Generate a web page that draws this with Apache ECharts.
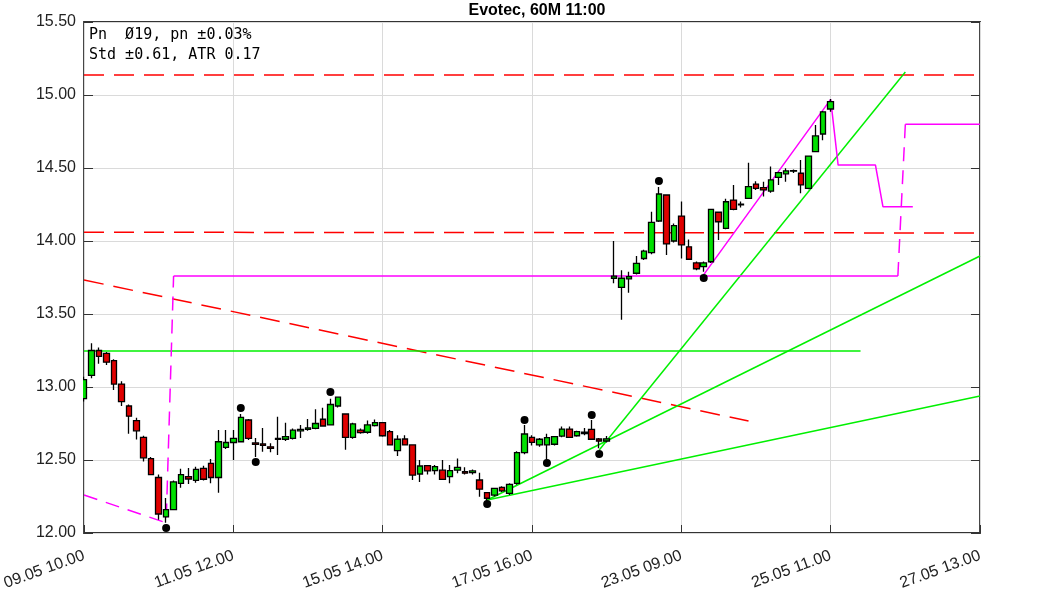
<!DOCTYPE html>
<html>
<head>
<meta charset="utf-8">
<script src="https://cdn.jsdelivr.net/npm/echarts@6/dist/echarts.min.js"></script>
<style>html,body{margin:0;padding:0;background:#fff;}#c{width:1063px;height:591px;}</style>
</head>
<body>
<div id="c"></div>
<script>
// ---- data ----
const tickLabels = ['09.05 10.00','11.05 12.00','15.05 14.00','17.05 16.00','23.05 09.00','25.05 11.00','27.05 13.00'];
const opens  = [12.92,13.08,13.25,13.23,13.18,13.02,12.87,12.77,12.655,12.51,12.38,12.11,12.16,12.34,12.386,12.36,12.443,12.477,12.38,12.587,12.62,12.625,12.774,12.617,12.61,12.59,12.642,12.642,12.648,12.70,12.71,12.717,12.779,12.74,12.87,12.815,12.655,12.705,12.69,12.735,12.756,12.694,12.564,12.644,12.603,12.404,12.461,12.427,12.43,12.386,12.43,12.42,12.413,12.363,12.276,12.26,12.313,12.272,12.34,12.55,12.655,12.603,12.603,12.608,12.664,12.712,12.666,12.69,12.71,12.644,12.63,13.745,13.683,13.74,13.779,13.88,13.92,14.137,14.315,14.0,14.171,13.96,13.85,13.824,13.858,14.197,14.087,14.28,14.248,14.292,14.39,14.365,14.342,14.436,14.46,14.478,14.464,14.36,14.612,14.733,14.904];
const closes = [13.05,13.25,13.21,13.17,13.02,12.90,12.80,12.70,12.515,12.40,12.13,12.16,12.35,12.40,12.37,12.436,12.368,12.38,12.625,12.62,12.648,12.792,12.648,12.607,12.60,12.58,12.648,12.66,12.705,12.71,12.72,12.75,12.733,12.88,12.93,12.655,12.747,12.687,12.74,12.756,12.666,12.603,12.642,12.603,12.397,12.459,12.425,12.454,12.367,12.427,12.45,12.41,12.425,12.30,12.238,12.306,12.288,12.333,12.55,12.678,12.621,12.642,12.653,12.66,12.712,12.655,12.694,12.68,12.642,12.63,12.645,13.76,13.745,13.756,13.847,13.93,14.128,14.322,13.98,14.105,13.973,13.875,13.81,13.85,14.217,14.132,14.269,14.217,14.252,14.372,14.36,14.35,14.418,14.468,14.48,14.482,14.384,14.582,14.72,14.885,14.955];
const lows   = [12.90,13.06,13.16,13.15,12.98,12.87,12.68,12.64,12.49,12.40,12.09,12.07,12.16,12.31,12.335,12.345,12.36,12.34,12.276,12.575,12.50,12.62,12.637,12.52,12.557,12.553,12.534,12.63,12.64,12.65,12.70,12.71,12.73,12.74,12.86,12.57,12.645,12.68,12.68,12.73,12.66,12.60,12.527,12.60,12.363,12.35,12.40,12.40,12.365,12.34,12.41,12.40,12.40,12.249,12.215,12.25,12.28,12.26,12.33,12.54,12.60,12.59,12.50,12.60,12.655,12.65,12.66,12.67,12.64,12.58,12.62,13.71,13.46,13.646,13.77,13.87,13.91,14.13,13.904,13.99,13.88,13.87,13.80,13.79,13.85,14.007,14.08,14.21,14.23,14.29,14.35,14.304,14.33,14.384,14.406,14.465,14.327,14.355,14.61,14.69,14.885];
const highs  = [13.07,13.30,13.27,13.24,13.19,13.04,12.88,12.79,12.666,12.52,12.40,12.24,12.36,12.44,12.445,12.454,12.46,12.507,12.705,12.705,12.705,12.815,12.78,12.65,12.72,12.614,12.797,12.755,12.715,12.74,12.78,12.847,12.858,12.92,12.935,12.82,12.755,12.715,12.77,12.778,12.76,12.705,12.67,12.67,12.605,12.50,12.465,12.465,12.50,12.466,12.51,12.45,12.435,12.413,12.28,12.31,12.32,12.34,12.56,12.74,12.67,12.65,12.68,12.665,12.73,12.73,12.70,12.72,12.774,12.65,12.665,14.00,13.80,13.79,13.897,13.94,14.20,14.37,14.32,14.12,14.27,14.01,13.86,13.86,14.22,14.20,14.29,14.384,14.27,14.536,14.41,14.406,14.51,14.475,14.498,14.49,14.555,14.585,14.795,14.89,14.973];
const pivotIdx = [11,21,23,33,54,59,62,68,69,77,83];
const pivotVal = [12.034,12.856,12.486,12.966,12.199,12.774,12.479,12.808,12.541,14.411,13.747];
// overlay lines as [barIndex, price] vertices
const redTop      = [[0,15.137],[120,15.137]];
const redMid      = [[0,14.06],[120,14.055]];
const redSlope    = [[0,13.733],[89,12.767]];
const greenFlat   = [[0,13.247],[104,13.247]];
const greenShallow= [[54,12.226],[120,12.938]];
const greenMid    = [[54,12.226],[120,13.897]];
const greenSteep  = [[69,12.568],[110,15.158]];
const magDash1    = [[0,12.26],[11,12.07],[12,13.76]];
const magFlat1    = [[12,13.76],[109,13.76]];
const magDash2    = [[109,13.76],[110,14.80]];
const magFlat2    = [[110,14.80],[120,14.80]];
const magZig      = [[83,13.77],[100,14.97],[101,14.52],[106,14.52],[107,14.235],[111,14.235]];

const nBars = 121;
const categories = Array.from({length:nBars}, (_, i) => String(i));
const candleData = opens.map((o, i) => [o, closes[i], lows[i], highs[i]]);
while (candleData.length < nBars) candleData.push('-');

const chart = echarts.init(document.getElementById('c'), null, {renderer:'canvas'});
const FONT = 'Liberation Sans, Arial, sans-serif';
function line(data, color, dash, z) {
  return {type:'line', xAxisIndex:1, yAxisIndex:0, data, symbol:'none', silent:true, z: z||3,
    lineStyle:{color, width:1.5, type: dash || 'solid'}, animation:false};
}
chart.setOption({
  animation:false,
  title:{text:'Evotec, 60M 11:00', left:532, top:-2, textAlign:'center',
    textStyle:{fontFamily:FONT, fontSize:16, fontWeight:'bold', color:'#000'}},
  grid:{left:84, right:83, top:22, bottom:58, show:true, borderColor:'#333', borderWidth:1.8, backgroundColor:'#fff',
        containLabel:false, outerBoundsMode:'none'},
  xAxis:[
    {type:'category', data:categories, boundaryGap:false,
     axisLine:{show:false},
     axisTick:{inside:true, length:8, interval:19, lineStyle:{color:'#333', width:1}},
     splitLine:{show:true, interval:19, lineStyle:{color:'#dadada', width:1}},
     axisLabel:{interval:19, rotate:20, margin:22, fontFamily:FONT, fontSize:16, color:'#222',
       formatter:(v, idx) => tickLabels[Math.round(idx/20)] || ''}},
    {type:'value', min:0, max:120, show:false}
  ],
  yAxis:[
    {type:'value', min:12, max:15.5, interval:0.5, position:'left',
     axisLine:{show:false},
     axisTick:{show:true, inside:true, length:9, lineStyle:{color:'#333'}},
     splitLine:{show:true, lineStyle:{color:'#dadada', width:1}},
     axisLabel:{fontFamily:FONT, fontSize:16, color:'#222', margin:8, formatter:v => v.toFixed(2)}},
    {type:'value', min:12, max:15.5, interval:0.5, position:'right',
     axisLine:{show:false},
     axisTick:{show:true, inside:true, length:9, lineStyle:{color:'#333'}},
     splitLine:{show:false}, axisLabel:{show:false}}
  ],
  series:[
    line(redTop, '#ff0000', [20,10]),
    line(redMid, '#ff0000', [20,10]),
    line(redSlope, '#ff0000', [20,10]),
    line(greenFlat, '#00f000'),
    line(greenShallow, '#00f000'),
    line(greenMid, '#00f000'),
    line(greenSteep, '#00f000'),
    line(magDash1, '#ff00ff', [14,9]),
    line(magFlat1, '#ff00ff'),
    line(magDash2, '#ff00ff', [14,9]),
    line(magFlat2, '#ff00ff'),
    line(magZig, '#ff00ff'),
    {type:'candlestick', xAxisIndex:0, yAxisIndex:0, data:candleData, barWidth:6, z:4, clip:true,
     itemStyle:{color:'#00e000', color0:'#e00000', borderColor:'#000', borderColor0:'#000', borderColorDoji:'#000', borderWidth:1.3}},
    {type:'scatter', xAxisIndex:1, yAxisIndex:0, z:5, symbolSize:8,
     itemStyle:{color:'#000', opacity:1}, data: pivotIdx.map((x, i) => [x, pivotVal[i]])}
  ],
  graphic:[
    // mask the part of the first (half-visible) bar that falls outside the plot frame
    {type:'rect', zlevel:1, z:100, shape:{x:78, y:340, width:5, height:80}, style:{fill:'#fff'}},
    {type:'text', left:89, top:25, z:10,
     style:{text:'Pn  Ø19, pn ±0.03%\nStd ±0.61, ATR 0.17', font:'15px "DejaVu Sans Mono", monospace', fill:'#000', lineHeight:20}}
  ]
});
</script>
</body>
</html>
